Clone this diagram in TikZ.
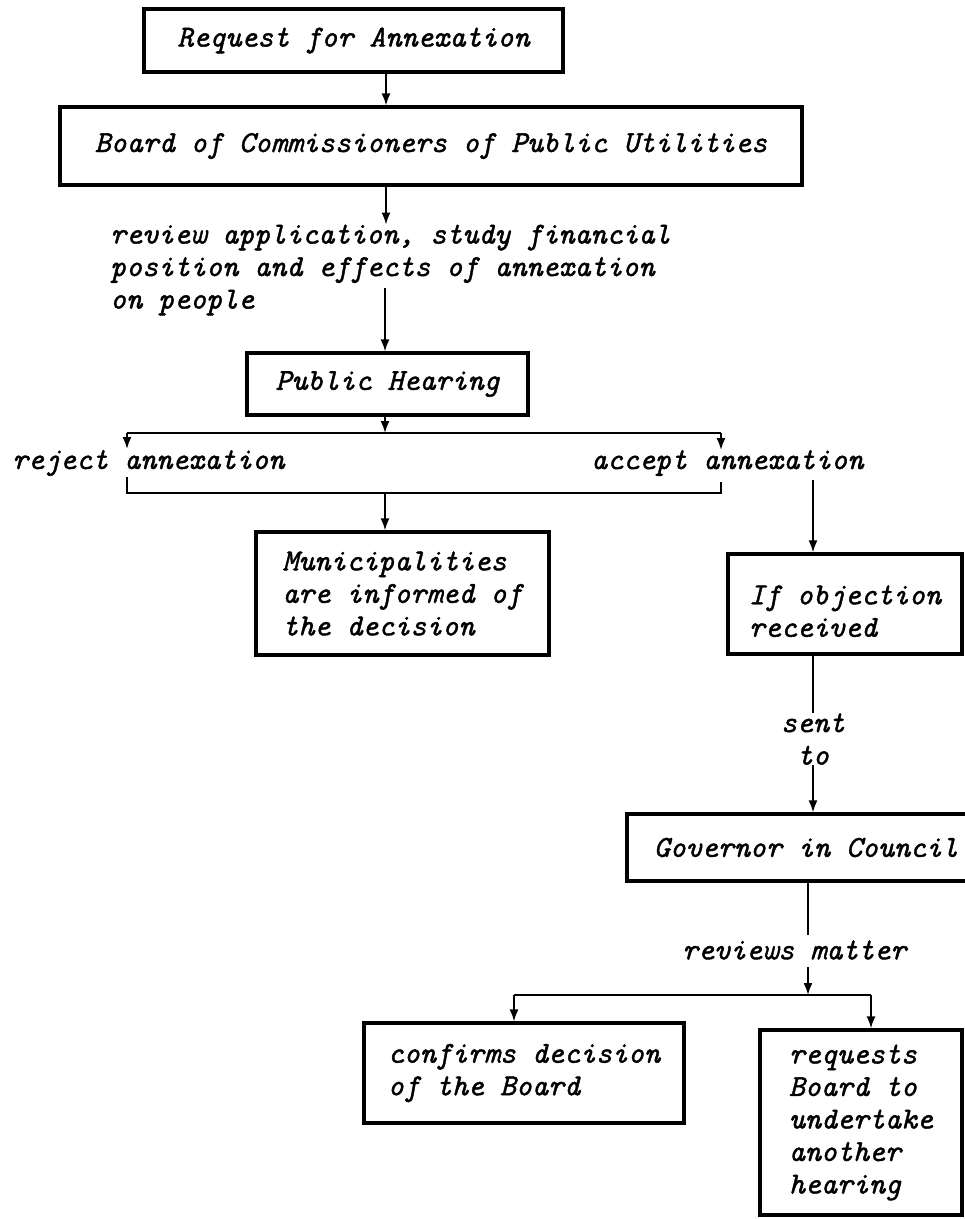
\documentclass[tikz,border=0pt]{standalone}
\usepackage{fontspec}
\usetikzlibrary{arrows.meta}
% typewriter-like slanted lettering used for every label, slightly emboldened
\newfontfamily\handface{lmmono10-italic.otf}[FakeBold=1.4]
\newcommand\handfont{\handface\fontsize{30.5}{32.5}\selectfont}
\begin{document}
\begin{tikzpicture}[x=1pt,y=-1pt,
  box/.style={draw, line width=3.2pt, inner sep=0pt, align=left, font=\handfont},
  txt/.style={inner sep=0pt, align=left, font=\handfont},
  flow/.style={line width=1.8pt, -{Latex[length=12pt,width=9pt]}},
  link/.style={line width=1.8pt}]
\useasboundingbox (0,0) rectangle (965,1219);

% columns used by the connectors
\coordinate (colA) at (386,0);
\coordinate (colB) at (813,0);
\coordinate (colG) at (808,0);

% main column
\node[box, minimum width=419pt, minimum height=63pt] (req) at (353.5,40.5) {Request for Annexation};
\node[box, minimum width=742pt, minimum height=78pt] (board) at (431,146) {Board of Commissioners of Public Utilities};
\node[txt, anchor=west] (review) at (110,270) {review application, study financial\\position and effects of annexation\\on people};
\node[box, minimum width=281pt, minimum height=62pt] (ph) at (387.5,384) {Public Hearing};

\draw[flow] (req.south -| colA) -- (board.north -| colA);
\draw[flow] (board.south -| colA) -- (review.north -| colA);
\coordinate (revout) at (385,288);
\draw[flow] (revout) -- (ph.north -| revout);

% decision fork after the hearing
\coordinate (split) at (385,433);
\coordinate (rejTop) at (127,433);
\coordinate (accTop) at (721,433);
\coordinate (rejTip) at (127,449);
\coordinate (accTip) at (721,450);
\draw[flow] (ph.south -| split) -- (split);
\draw[link] (rejTop) -- (accTop);
\draw[flow] (rejTop) -- (rejTip);
\draw[flow] (accTop) -- (accTip);

\node[txt, anchor=west] (reject) at (12,463) {reject annexation};
\node[txt, anchor=west] (accept) at (591,463) {accept annexation};

% bracket gathering both outcomes
\coordinate (brL) at (127,477);
\coordinate (brR) at (721,482);
\coordinate (brBase) at (0,493);
\coordinate (muniIn) at (385,493);
\draw[link] (brL) -- (brL |- brBase) -- (brR |- brBase) -- (brR);

\node[box, minimum width=293pt, minimum height=123pt] (muni) at (402.5,593.5) {Municipalities\\are informed of\\the decision};
\draw[flow] (muniIn) -- (muni.north -| muniIn);

% objection path
\coordinate (accOut) at (813,480);
\node[box, minimum width=234pt, minimum height=100pt] (obj) at (845,604) {\raisebox{-10pt}[\height][\depth]{\begin{tabular}{@{}l@{}}If objection\\received\end{tabular}}};
\draw[flow] (accOut) -- (obj.north -| accOut);

\node[txt, align=center] (sent) at (813,739) {sent\\to};
\draw[link] (obj.south -| colB) -- (sent.north);

\node[box, minimum width=358pt, minimum height=67pt] (gov) at (806,847.5) {Governor in Council};
\draw[flow] (sent.south) -- (gov.north -| colB);

\node[txt, anchor=west] (reviews) at (682,950) {reviews matter};
\coordinate (revIn) at (808,935);
\coordinate (revOut) at (808,967);
\draw[link] (gov.south -| colG) -- (revIn);

% final fork
\coordinate (fork) at (808,995);
\coordinate (forkL) at (514,995);
\coordinate (forkR) at (871,995);
\draw[flow] (revOut) -- (fork);
\draw[link] (forkL) -- (forkR);

\node[box, minimum width=320pt, minimum height=100pt] (conf) at (524,1073) {confirms decision\\of the Board};
\node[box, minimum width=202pt, minimum height=185pt] (reqs) at (861,1122.5) {requests\\Board to\\undertake\\another\\hearing};

\draw[flow] (forkL) -- (conf.north -| forkL);
\draw[flow] (forkR) -- (reqs.north -| forkR);
\end{tikzpicture}
\end{document}
